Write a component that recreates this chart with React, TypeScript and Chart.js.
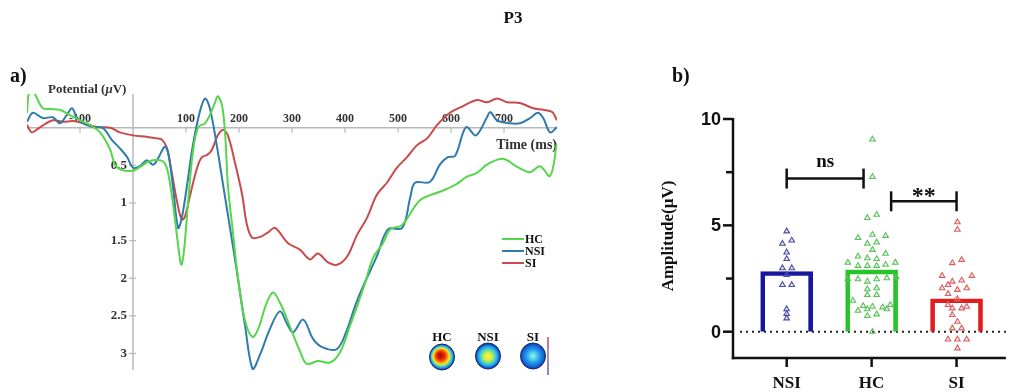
import React, { useEffect, useRef } from 'react';
import { Chart, registerables } from 'chart.js';

Chart.register(...registerables);

// ---------- Panel a: grand-average ERP waveforms (P3) ----------
const hcTime = [-200, -196, -189, -183, -170, -157, -138, -119, -100, -81, -62, -43, -34, -21, 0, 13, 32, 51, 60, 66, 75, 85, 91, 96, 104, 113, 123, 136, 145, 155, 160, 168, 174, 179, 189, 198, 211, 225, 236, 251, 264, 277, 296, 315, 328, 349, 372, 391, 409, 423, 438, 453, 472, 485, 508, 542, 579, 608, 630, 649, 670, 698, 725, 749, 768, 787, 800];
const hcAmp = [-0.2, -0.48, -0.5, -0.42, -0.26, -0.25, -0.24, -0.17, -0.1, -0.04, 0.06, 0.29, 0.49, 0.56, 0.57, 0.52, 0.44, 0.43, 0.47, 0.59, 0.98, 1.55, 1.82, 1.65, 0.98, 0.32, -0.01, -0.06, -0.17, -0.34, -0.42, -0.3, 0.1, 0.76, 1.42, 1.99, 2.55, 2.78, 2.68, 2.35, 2.19, 2.32, 2.64, 2.97, 3.14, 3.1, 3.12, 2.98, 2.64, 2.37, 2.06, 1.73, 1.53, 1.35, 1.29, 0.96, 0.85, 0.76, 0.65, 0.6, 0.48, 0.41, 0.52, 0.59, 0.51, 0.64, 0.2];

const nsiTime = [-200, -189, -170, -151, -138, -125, -115, -106, -94, -75, -57, -40, -25, -11, 0, 13, 26, 38, 47, 60, 66, 75, 85, 92, 102, 113, 126, 136, 145, 158, 170, 183, 196, 211, 226, 240, 258, 277, 291, 302, 321, 340, 358, 385, 404, 419, 434, 460, 481, 508, 523, 532, 560, 579, 594, 608, 623, 630, 647, 668, 674, 687, 711, 730, 749, 764, 774, 787, 800];
const nsiAmp = [-0.08, -0.2, -0.13, -0.14, -0.06, -0.17, -0.26, -0.14, -0.06, -0.01, 0.0, 0.16, 0.27, 0.39, 0.53, 0.51, 0.43, 0.49, 0.41, 0.25, 0.32, 0.76, 1.33, 1.2, 0.76, 0.23, -0.21, -0.39, -0.26, 0.23, 0.76, 1.33, 1.91, 2.61, 3.21, 3.01, 2.68, 2.44, 2.61, 2.72, 2.55, 2.81, 2.92, 2.94, 2.68, 2.37, 2.11, 1.71, 1.35, 1.33, 0.93, 0.73, 0.72, 0.49, 0.39, 0.37, 0.06, -0.01, 0.1, -0.14, -0.21, -0.1, -0.06, -0.06, -0.13, -0.2, -0.13, 0.06, -0.01];

const siTime = [-200, -191, -175, -151, -132, -113, -94, -68, -43, -25, 0, 26, 45, 55, 64, 74, 83, 92, 98, 108, 121, 130, 140, 149, 160, 170, 179, 192, 206, 215, 225, 240, 255, 268, 292, 315, 334, 349, 368, 385, 404, 423, 442, 460, 479, 498, 517, 536, 555, 574, 598, 623, 649, 668, 687, 706, 730, 755, 774, 791, 800];
const siAmp = [-0.04, 0.06, -0.01, -0.1, -0.08, -0.09, -0.06, -0.01, 0.0, 0.06, 0.1, 0.12, 0.14, 0.16, 0.27, 0.63, 0.98, 1.22, 1.18, 0.89, 0.53, 0.39, 0.36, 0.29, 0.1, 0.03, 0.1, 0.45, 0.89, 1.29, 1.46, 1.45, 1.39, 1.33, 1.53, 1.62, 1.75, 1.67, 1.79, 1.82, 1.71, 1.42, 1.19, 0.89, 0.73, 0.53, 0.39, 0.23, 0.14, -0.04, -0.2, -0.29, -0.37, -0.34, -0.39, -0.34, -0.33, -0.26, -0.24, -0.21, -0.1];

const timeTicks = [-100, 100, 200, 300, 400, 500, 600, 700];
const potentialTicks = [0.5, 1, 1.5, 2, 2.5, 3];
const waveLabels = ['HC', 'NSI', 'SI'];
const waveColors = ['#55d64b', '#2f7bab', '#c94a4a'];

// ---------- Panel b: P3 amplitude per group ----------
const groups = ['NSI', 'HC', 'SI'];
const groupMeans = [2.83, 2.91, 1.55];
const amplitudeTicks = [0, 5, 10];
const amplitudeMinorTicks = [2.5, 7.5];

const nsiValues = [4.72, 4.29, 4.14, 3.73, 3.42, 2.99, 2.99, 2.67, 2.2, 2.2, 1.06, 0.84, 0.63];
const nsiJitter = [0, 0.06, -0.05, 0, 0, -0.05, 0.06, 0, -0.05, 0.06, 0, 0, 0];

const hcValues = [9.04, 7.28, 5.5, 5.35, 4.56, 4.51, 4.41, 4.2, 4.14, 3.85, 3.67, 3.54, 3.46, 3.42, 3.25, 3.25, 3.15, 3.1, 3.1, 3.1, 2.57, 2.52, 2.47, 2.47, 2.47, 2.36, 2.05, 2.0, 1.73, 1.73, 1.46, 1.26, 1.21, 1.18, 1.15, 1.06, 1.06, 0.99, 0.82, 0.74, 0.0];
const hcJitter = [0.01, 0.01, 0.06, -0.05, 0.01, 0.165, -0.16, 0.06, -0.05, 0.01, 0.165, -0.16, -0.05, 0.06, -0.28, 0.28, 0.165, -0.16, -0.05, 0.06, 0.29, 0.18, -0.28, -0.16, 0.06, -0.05, 0.06, -0.05, -0.05, 0.06, -0.22, 0.22, -0.1, 0.01, 0.13, -0.05, 0.18, -0.16, 0.06, -0.05, 0.01];

const siValues = [5.15, 4.8, 3.38, 3.23, 2.63, 2.63, 2.41, 2.36, 2.2, 2.05, 2.05, 1.97, 1.78, 1.53, 1.26, 1.18, 1.1, 1.1, 0.79, 0.47, 0.16, 0.16, -0.36, -0.36, -0.36, -0.78];
const siJitter = [0.01, 0.01, 0.06, -0.05, -0.17, 0.18, 0.06, -0.05, -0.1, -0.17, 0.12, 0.01, -0.1, 0.01, -0.1, 0.12, -0.05, 0.06, -0.05, 0.01, -0.05, 0.06, -0.1, 0.01, 0.12, 0.01];

const barColors = ['#16169e', '#26c426', '#e11d1d'];
const pointColors = ['#4a4aa8', '#5cbf5c', '#d96060'];
const pointFills = ['rgba(120,120,210,0.18)', 'rgba(120,220,120,0.18)', 'rgba(240,140,140,0.18)'];

const comparisons = [
  { from: 0, to: 0.905, y: 7.2, label: 'ns' },
  { from: 1.23, to: 2, y: 6.13, label: '**' },
];

const SERIF = '"Liberation Serif", "Times New Roman", serif';
const SANS = '"Liberation Sans", Arial, sans-serif';

function seg(ctx: CanvasRenderingContext2D, x1: number, y1: number, x2: number, y2: number) {
  ctx.beginPath();
  ctx.moveTo(x1, y1);
  ctx.lineTo(x2, y2);
  ctx.stroke();
}

function drawTopomap(ctx: CanvasRenderingContext2D, cx: number, cy: number, stops: [number, string][], ox: number, oy: number) {
  const g = ctx.createRadialGradient(cx + ox, cy + oy, 0, cx, cy, 13);
  stops.forEach(([o, c]) => g.addColorStop(o, c));
  ctx.save();
  ctx.beginPath();
  ctx.ellipse(cx, cy, 12.5, 13, 0, 0, Math.PI * 2);
  ctx.fillStyle = g;
  ctx.fill();
  ctx.lineWidth = 1;
  ctx.strokeStyle = '#1b2a70';
  ctx.stroke();
  ctx.restore();
}

const erpPlugin = {
  id: 'erpAxes',
  beforeDatasetsDraw(chart: any) {
    const { ctx, chartArea } = chart;
    const xs = chart.scales.x;
    const ys = chart.scales.y;
    const x0 = xs.getPixelForValue(0);
    const y0 = ys.getPixelForValue(0);
    ctx.save();
    ctx.strokeStyle = '#b8b8b8';
    ctx.lineWidth = 1.5;
    seg(ctx, chartArea.left, y0, chartArea.right, y0);
    seg(ctx, x0, chartArea.top, x0, chartArea.bottom);
    ctx.lineWidth = 1.2;
    timeTicks.forEach((t) => {
      const px = xs.getPixelForValue(t);
      seg(ctx, px, y0, px, y0 + 5);
    });
    potentialTicks.forEach((v) => {
      const py = ys.getPixelForValue(v);
      seg(ctx, x0 - 4, py, x0 + 3, py);
    });
    ctx.fillStyle = '#333';
    ctx.font = `bold 12px ${SERIF}`;
    ctx.textAlign = 'center';
    ctx.textBaseline = 'alphabetic';
    timeTicks.forEach((t) => ctx.fillText(String(t), xs.getPixelForValue(t), y0 - 6));
    ctx.font = `bold 13px ${SERIF}`;
    ctx.textAlign = 'right';
    ctx.textBaseline = 'middle';
    potentialTicks.forEach((v) => ctx.fillText(String(v), x0 - 6, ys.getPixelForValue(v)));

    // axis titles
    ctx.textAlign = 'left';
    ctx.textBaseline = 'alphabetic';
    ctx.font = `bold 13px ${SERIF}`;
    let tx = 48;
    const ty = 93;
    ctx.fillText('Potential (', tx, ty);
    tx += ctx.measureText('Potential (').width;
    ctx.font = `italic bold 13px ${SERIF}`;
    ctx.fillText('\u03bc', tx, ty);
    tx += ctx.measureText('\u03bc').width;
    ctx.font = `bold 13px ${SERIF}`;
    ctx.fillText('V)', tx, ty);
    ctx.font = `bold 14px ${SERIF}`;
    ctx.textAlign = 'right';
    ctx.fillText('Time (ms)', 557, 149);
    ctx.restore();
  },
  afterDraw(chart: any) {
    const { ctx } = chart;
    ctx.save();
    // figure heading and panel tag
    ctx.fillStyle = '#111';
    ctx.font = `bold 17px ${SERIF}`;
    ctx.textAlign = 'center';
    ctx.textBaseline = 'alphabetic';
    ctx.fillText('P3', 513, 23);
    ctx.font = `bold 20px ${SERIF}`;
    ctx.textAlign = 'left';
    ctx.fillText('a)', 10, 82);

    // legend
    ctx.font = `bold 12px ${SERIF}`;
    ctx.textBaseline = 'middle';
    waveLabels.forEach((lab, i) => {
      const yy = 239 + i * 12;
      ctx.strokeStyle = waveColors[i];
      ctx.lineWidth = 2;
      seg(ctx, 502, yy, 524, yy);
      ctx.fillStyle = '#111';
      ctx.fillText(lab, 525, yy + 1);
    });

    // scalp maps
    ctx.font = `bold 13px ${SERIF}`;
    ctx.textAlign = 'center';
    ctx.textBaseline = 'alphabetic';
    const mapX = [442, 488, 533];
    waveLabels.forEach((lab, i) => ctx.fillText(lab, mapX[i], 341));
    drawTopomap(ctx, 442, 357, [[0, '#b40000'], [0.3, '#dd2a0c'], [0.48, '#ff7a00'], [0.6, '#ffe020'], [0.72, '#7ee08a'], [0.84, '#22a6e6'], [0.95, '#1a50c0'], [1, '#12207a']], -2, -2);
    drawTopomap(ctx, 488, 356, [[0, '#f4f23c'], [0.25, '#e6f032'], [0.48, '#6ee0a0'], [0.7, '#28b4ea'], [0.88, '#1462d0'], [1, '#122080']], 0, 1);
    drawTopomap(ctx, 533, 356, [[0, '#a4f0de'], [0.3, '#4cc8f0'], [0.58, '#1e90e6'], [0.85, '#1260d4'], [1, '#0a2890']], 0, 0);
    const cb = ctx.createLinearGradient(0, 337, 0, 375);
    cb.addColorStop(0, '#c04060');
    cb.addColorStop(0.5, '#9a6aa0');
    cb.addColorStop(1, '#4a5ac0');
    ctx.strokeStyle = cb;
    ctx.lineWidth = 1.5;
    seg(ctx, 548, 337, 548, 375);
    ctx.restore();
  },
};

const ampPlugin = {
  id: 'ampAxes',
  beforeDatasetsDraw(chart: any) {
    const { ctx, chartArea } = chart;
    const ys = chart.scales.y;
    const y0 = ys.getPixelForValue(0);
    ctx.save();
    ctx.strokeStyle = '#222';
    ctx.lineWidth = 2;
    ctx.setLineDash([2, 4]);
    seg(ctx, chartArea.left + 7, y0, chartArea.right, y0);
    ctx.restore();
  },
  afterDraw(chart: any) {
    const { ctx, chartArea } = chart;
    const xs = chart.scales.x;
    const ys = chart.scales.y;
    ctx.save();
    ctx.strokeStyle = '#111';
    ctx.fillStyle = '#111';
    ctx.lineWidth = 2.5;
    const left = chartArea.left;
    const bottom = chartArea.bottom;
    seg(ctx, left, ys.getPixelForValue(10) - 1, left, bottom + 1.25);
    seg(ctx, left - 1.25, bottom, chartArea.right, bottom);
    amplitudeTicks.forEach((v) => seg(ctx, left - 10, ys.getPixelForValue(v), left, ys.getPixelForValue(v)));
    amplitudeMinorTicks.forEach((v) => seg(ctx, left - 7, ys.getPixelForValue(v), left, ys.getPixelForValue(v)));
    groups.forEach((_, i) => {
      const px = xs.getPixelForValue(i);
      seg(ctx, px, bottom, px, bottom + 9);
    });
    ctx.font = `bold 18px ${SANS}`;
    ctx.textAlign = 'right';
    ctx.textBaseline = 'middle';
    amplitudeTicks.forEach((v) => ctx.fillText(String(v), left - 12, ys.getPixelForValue(v) + 1));
    ctx.font = `bold 17px ${SERIF}`;
    ctx.textAlign = 'center';
    ctx.textBaseline = 'alphabetic';
    groups.forEach((g, i) => ctx.fillText(g, xs.getPixelForValue(i), bottom + 30));

    // y title
    ctx.save();
    ctx.translate(29, 176);
    ctx.rotate(-Math.PI / 2);
    ctx.font = `bold 17px ${SERIF}`;
    ctx.textBaseline = 'middle';
    ctx.fillText('Amplitude(\u03bcV)', 0, 0);
    ctx.restore();

    // significance brackets
    ctx.lineWidth = 2.5;
    comparisons.forEach((c) => {
      const xa = xs.getPixelForValue(c.from);
      const xb = xs.getPixelForValue(c.to);
      const yy = ys.getPixelForValue(c.y);
      seg(ctx, xa, yy, xb, yy);
      seg(ctx, xa, yy - 10, xa, yy + 10);
      seg(ctx, xb, yy - 10, xb, yy + 10);
      ctx.textAlign = 'center';
      if (c.label === 'ns') {
        ctx.font = `bold 19px ${SERIF}`;
        ctx.fillText(c.label, (xa + xb) / 2, yy - 12);
      } else {
        ctx.font = `bold 24px ${SERIF}`;
        ctx.fillText(c.label, (xa + xb) / 2, yy + 2);
      }
    });

    ctx.font = `bold 20px ${SERIF}`;
    ctx.textAlign = 'left';
    ctx.fillText('b)', 32, 22);
    ctx.restore();
  },
};

export default function App() {
  const waveRef = useRef<HTMLCanvasElement | null>(null);
  const ampRef = useRef<HTMLCanvasElement | null>(null);

  useEffect(() => {
    const series = [
      [hcTime, hcAmp],
      [nsiTime, nsiAmp],
      [siTime, siAmp],
    ];
    const wave = new Chart(waveRef.current as HTMLCanvasElement, {
      type: 'line',
      data: {
        datasets: series.map(([t, a], i) => ({
          label: waveLabels[i],
          data: t.map((tt, k) => ({ x: tt, y: a[k] })),
          borderColor: waveColors[i],
          borderWidth: 2,
          pointRadius: 0,
          fill: false,
          tension: 0.35,
        })),
      },
      options: {
        animation: false,
        responsive: false,
        events: [],
        layout: { padding: { left: 27, right: 454, top: 94, bottom: 22 } },
        plugins: { legend: { display: false }, tooltip: { enabled: false } },
        scales: {
          x: { type: 'linear', min: -200, max: 800, display: false },
          y: { type: 'linear', min: -0.45, max: 3.22, reverse: true, display: false },
        },
      },
      plugins: [erpPlugin],
    });

    const scatterSets = [
      [nsiValues, nsiJitter],
      [hcValues, hcJitter],
      [siValues, siJitter],
    ].map(([vals, jit], gi) => ({
      type: 'scatter' as const,
      label: groups[gi],
      data: vals.map((v, k) => ({ x: gi + jit[k], y: v })),
      pointStyle: 'triangle',
      pointRadius: 3.2,
      pointBorderWidth: 1.1,
      pointBorderColor: pointColors[gi],
      pointBackgroundColor: pointFills[gi],
      borderColor: pointColors[gi],
      backgroundColor: pointFills[gi],
      order: 1,
    }));

    const amp = new Chart(ampRef.current as HTMLCanvasElement, {
      type: 'bar',
      data: {
        datasets: [
          {
            type: 'bar' as const,
            label: 'mean',
            data: groupMeans.map((m, i) => ({ x: i, y: m })),
            backgroundColor: 'rgba(0,0,0,0)',
            borderColor: barColors,
            borderWidth: 4,
            borderSkipped: 'bottom',
            barThickness: 52,
            order: 2,
          },
          ...scatterSets,
        ] as any,
      },
      options: {
        animation: false,
        responsive: false,
        events: [],
        layout: { padding: { left: 93, right: 0, top: 59, bottom: 34 } },
        plugins: { legend: { display: false }, tooltip: { enabled: false } },
        scales: {
          x: { type: 'linear', min: -0.632, max: 2.581, offset: false, display: false },
          y: { type: 'linear', min: -1.236, max: 10, display: false },
        },
      },
      plugins: [ampPlugin],
    });

    return () => {
      wave.destroy();
      amp.destroy();
    };
  }, []);

  return (
    <div style={{ position: 'fixed', left: 0, top: 0, width: 1011, height: 392, background: '#fff', overflow: 'hidden' }}>
      <canvas ref={waveRef} width={1011} height={392} style={{ position: 'absolute', left: 0, top: 0, width: 1011, height: 392 }} />
      <canvas ref={ampRef} width={371} height={332} style={{ position: 'absolute', left: 640, top: 60, width: 371, height: 332 }} />
    </div>
  );
}
